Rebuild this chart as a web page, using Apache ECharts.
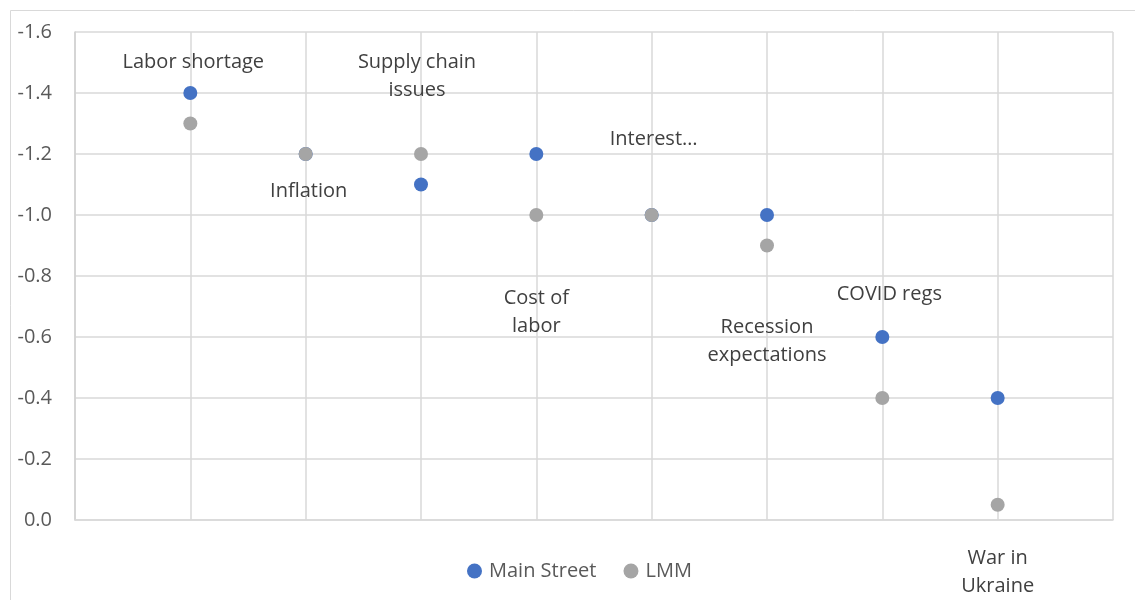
<!DOCTYPE html>
<html>
<head>
<meta charset="utf-8">
<script src="https://cdn.jsdelivr.net/npm/echarts@6/dist/echarts.min.js"></script>
<style>html,body{margin:0;padding:0;background:#fff;}#c{width:1135px;height:600px;}</style>
</head>
<body>
<div id="c"></div>
<script>
const positions = [1, 2, 3, 4, 5, 6, 7, 8];
const categories = ['Labor shortage', 'Inflation', 'Supply chain\nissues', 'Cost of\nlabor', 'Interest…', 'Recession\nexpectations', 'COVID regs', 'War in\nUkraine'];
const mainStreet = [-1.4, -1.2, -1.1, -1.2, -1.0, -1.0, -0.6, -0.4];
const lmm = [-1.3, -1.2, -1.2, -1.0, -1.0, -0.9, -0.4, -0.05];
const yTicks = { min: -1.6, max: 0, step: 0.2 };

// label offsets (style only): [dx, dy] relative to the LMM point
const labelOffsets = [[3, -61], [3, 37], [-4, -78], [0, 97], [2, -76], [0, 96], [7, -104], [0, 68]];

const font = '"Open Sans", "Liberation Sans", sans-serif';
const fs = 20;
const chart = echarts.init(document.getElementById('c'));
chart.setOption({
  animation: false,
  backgroundColor: '#fff',
  graphic: [{ type: 'rect', shape: { x: 10.5, y: 10.5, width: 1200, height: 700 }, style: { fill: 'none', stroke: '#d9d9d9', lineWidth: 1 }, silent: true }],
  grid: { left: 75, right: 22, top: 32, bottom: 80 },
  legend: {
    left: 462, top: 556,
    itemWidth: 15, itemHeight: 15, itemGap: 27,
    icon: 'circle',
    textStyle: { fontFamily: font, fontSize: fs, color: '#595959', padding: [0, 0, 0, 2] },
    data: ['Main Street', 'LMM']
  },
  xAxis: {
    type: 'value', min: 0, max: 9, interval: 1,
    axisLine: { show: true, lineStyle: { color: '#d9d9d9', width: 1.5 } },
    axisTick: { show: false }, axisLabel: { show: false },
    splitLine: { show: true, lineStyle: { color: '#d9d9d9', width: 1.5 } }
  },
  yAxis: {
    type: 'value', inverse: true, min: yTicks.min, max: yTicks.max, interval: yTicks.step,
    axisLine: { show: true, lineStyle: { color: '#d0d0d0', width: 1.5 } },
    axisTick: { show: false },
    axisLabel: { fontFamily: font, fontSize: fs, color: '#595959', margin: 23,
      formatter: v => (Math.abs(v) < 1e-9 ? 0 : v).toFixed(1) },
    splitLine: { show: true, lineStyle: { color: '#d9d9d9', width: 1.5 } }
  },
  series: [
    { name: 'Main Street', type: 'scatter', symbolSize: 14, itemStyle: { color: '#4472C4', opacity: 1 },
      data: positions.map((p, i) => [p, mainStreet[i]]), z: 2 },
    { name: 'LMM', type: 'scatter', symbolSize: 14, itemStyle: { color: '#A5A5A5', opacity: 1 }, z: 3,
      data: positions.map((p, i) => ({
        value: [p, lmm[i]],
        label: { show: true, position: 'inside', offset: labelOffsets[i], formatter: categories[i],
          fontFamily: font, fontSize: fs, color: '#404040', lineHeight: 28, align: 'center', opacity: 1 }
      })) }
  ]
});
</script>
</body>
</html>
